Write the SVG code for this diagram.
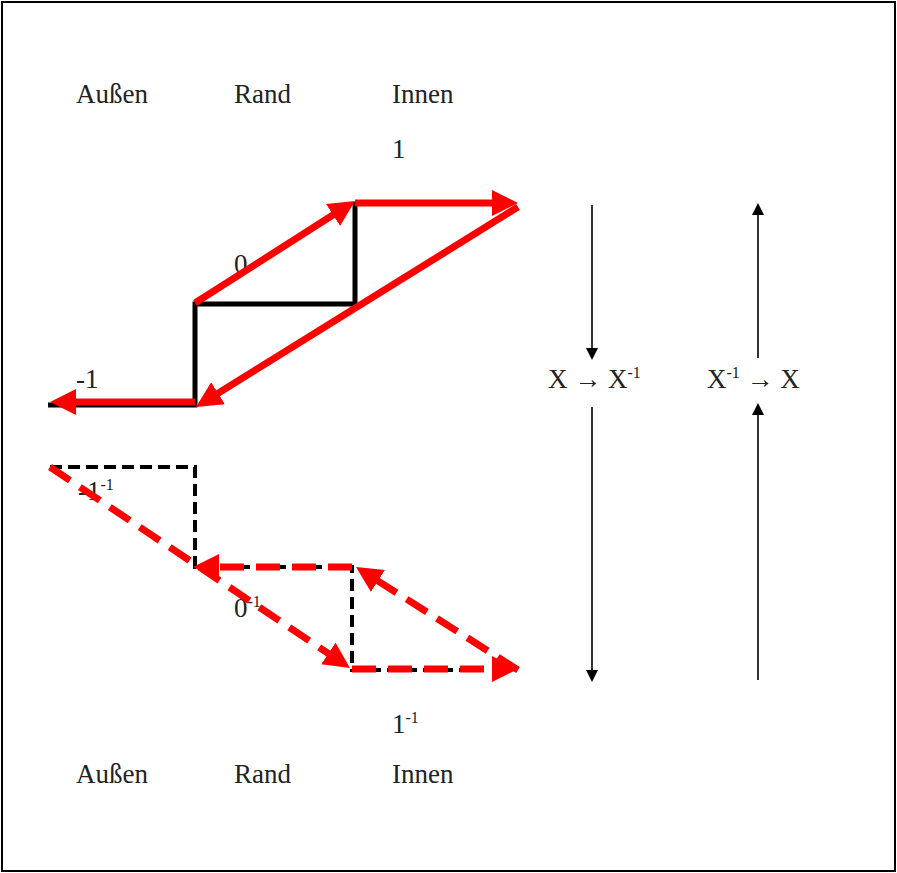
<svg xmlns="http://www.w3.org/2000/svg" width="897" height="873" viewBox="0 0 897 873">
<style>
.t{font-family:"Liberation Serif","DejaVu Serif",serif;font-size:27px;fill:#222}
.sup{font-size:16px}
.blk{fill:none;stroke:#000;stroke-width:5}
.blkd{fill:none;stroke:#000;stroke-width:4;stroke-dasharray:12 6}
.red{fill:none;stroke:#ff0000;stroke-width:7;marker-end:url(#ra)}
.redd{fill:none;stroke:#ff0000;stroke-width:7;stroke-dasharray:24 12;marker-end:url(#ra)}
.thin{fill:none;stroke:#000;stroke-width:1.6;marker-end:url(#ka)}
</style>
<defs>
<marker id="ra" viewBox="0 0 26 26" refX="17" refY="13" markerWidth="26" markerHeight="26" markerUnits="userSpaceOnUse" orient="auto">
<path d="M0,0 L26,13 L0,26 Z" fill="#ff0000"/>
</marker>
<marker id="ka" viewBox="0 0 12 12" refX="10" refY="6" markerWidth="12" markerHeight="12" markerUnits="userSpaceOnUse" orient="auto">
<path d="M0,0 L12,6 L0,12 Z" fill="#000"/>
</marker>
</defs>
<rect x="2" y="2" width="893" height="869" fill="#fff" stroke="#000" stroke-width="2"/>

<g id="labels-top">
<text class="t" x="76" y="103">Außen</text>
<text class="t" x="234" y="103">Rand</text>
<text class="t" x="392" y="103">Innen</text>
<text class="t" x="392" y="158">1</text>
<text class="t" x="234" y="273">0</text>
<text class="t" x="76" y="388">-1</text>
</g>
<g id="labels-bottom">
<text class="t" x="78" y="500">-1<tspan class="sup" dy="-10">-1</tspan></text>
<text class="t" x="234" y="617">0<tspan class="sup" dy="-10">-1</tspan></text>
<text class="t" x="392" y="733">1<tspan class="sup" dy="-10">-1</tspan></text>
<text class="t" x="76" y="783">Außen</text>
<text class="t" x="234" y="783">Rand</text>
<text class="t" x="392" y="783">Innen</text>
</g>
<g id="labels-right">
<text class="t" x="548" y="388">X → X<tspan class="sup" dy="-10">-1</tspan></text>
<text class="t" x="707" y="388">X<tspan class="sup" dy="-10">-1</tspan><tspan dy="10"> → X</tspan></text>
</g>

<g id="steps">
<path id="step-solid" class="blk" d="M48,405 H195 V304 H355 V202"/>
<path id="step-dashed" class="blkd" d="M50,467 H195 V567 H352 V670 H483"/>
</g>

<g id="connectors">
<line class="red" x1="195" y1="303" x2="347.4" y2="205.8"/>
<line class="red" x1="355" y1="203" x2="509" y2="203"/>
<line class="red" x1="518" y1="207" x2="203.6" y2="402.2"/>
<line class="red" x1="195" y1="402" x2="59" y2="402"/>
<line class="redd" x1="50" y1="467" x2="342.5" y2="663"/>
<line class="redd" x1="352" y1="567" x2="202" y2="567"/>
<line class="redd" x1="518" y1="670" x2="363.6" y2="571.8"/>
<line class="redd" x1="352" y1="669" x2="509" y2="669"/>
<line class="thin" x1="592" y1="205" x2="592" y2="358"/>
<line class="thin" x1="592" y1="407" x2="592" y2="680"/>
<line class="thin" x1="758" y1="358" x2="758" y2="205"/>
<line class="thin" x1="758" y1="680" x2="758" y2="405"/>
</g>
</svg>
